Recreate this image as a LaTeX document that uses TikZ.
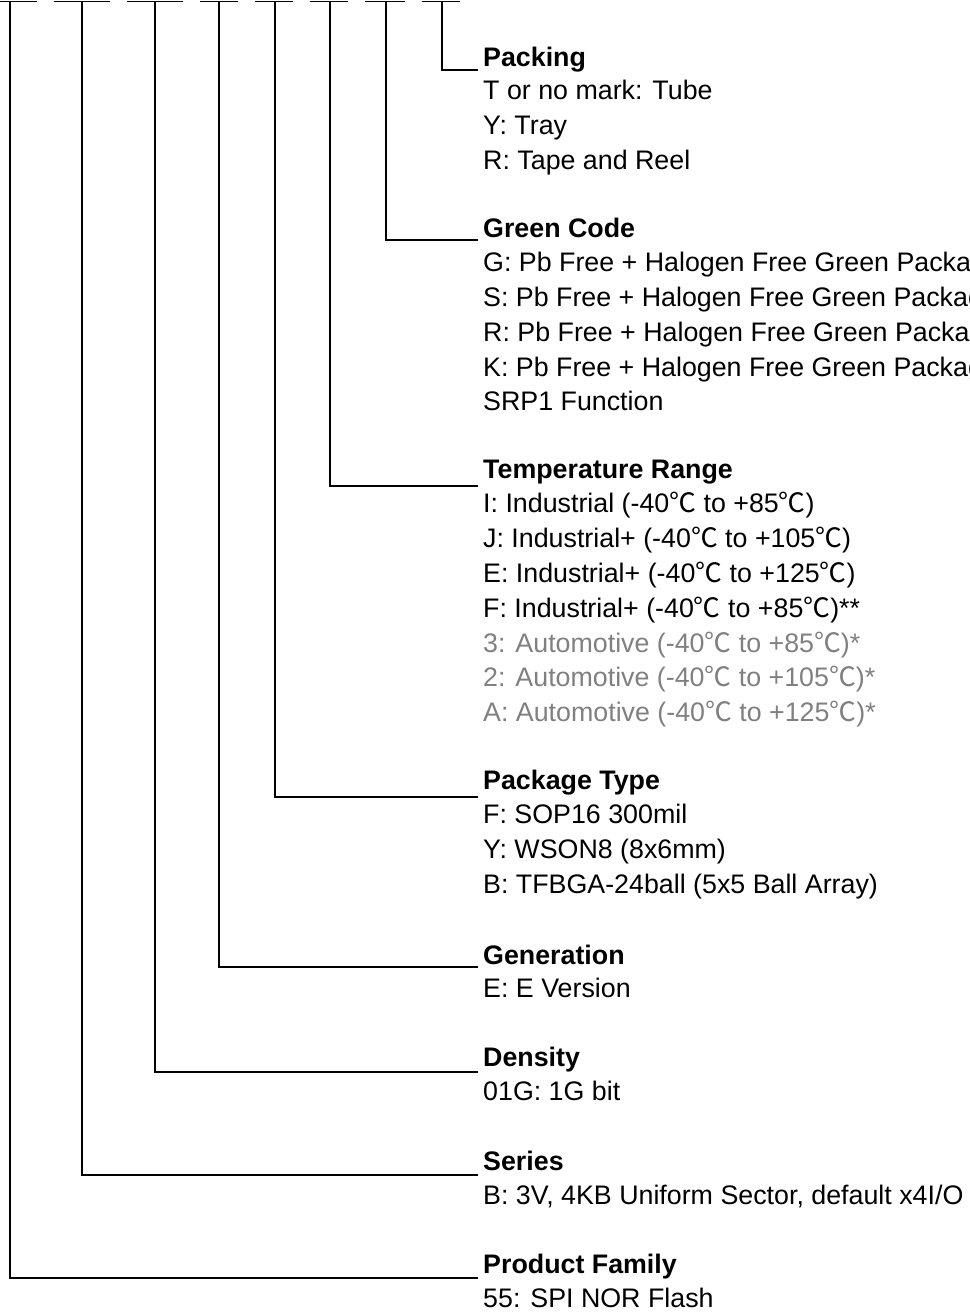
\documentclass[tikz,border=0pt]{standalone}
\usepackage{fontspec}
\setmainfont{Liberation Sans}
\newfontfamily\cjk{Noto Sans CJK SC}
\newcommand{\degc}{{\cjk ℃}}
\definecolor{autogray}{RGB}{128,128,128}
\begin{document}
\begin{tikzpicture}[x=1pt,y=-1pt,
  wire/.style={line width=1.5pt,black},
  txt/.style={anchor=base west,inner sep=0pt,font=\fontsize{26.8}{35}\selectfont},
  head/.style={txt,font=\fontsize{26.8}{35}\selectfont\bfseries},
  gtxt/.style={txt,text=autogray}]
\useasboundingbox (0,0) rectangle (969,1313);
% top dashes
\foreach \a/\b in {0/37,54/110,127/183,200/238,255/293,310/348,365/405,422/460}
  \draw[wire] (\a,1.5) -- (\b,1.5);
% top coordinates
\coordinate (t1) at (10,1.5);
\coordinate (t2) at (82,1.5);
\coordinate (t3) at (155,1.5);
\coordinate (t4) at (219,1.5);
\coordinate (t5) at (275,1.5);
\coordinate (t6) at (330,1.5);
\coordinate (t7) at (386,1.5);
\coordinate (t8) at (442,1.5);
% end coordinates
\coordinate (e8) at (478,70);
\coordinate (e7) at (478,240);
\coordinate (e6) at (478,486);
\coordinate (e5) at (478,797);
\coordinate (e4) at (478,967);
\coordinate (e3) at (478,1072);
\coordinate (e2) at (478,1175);
\coordinate (e1) at (478,1278);
\foreach \i in {1,...,8}
  \draw[wire] (t\i) |- (e\i);
% Packing
\node[head] (pk) at (483,66.5) {Packing};
\node[txt] (pk1) at (483,99.5) {T or no mark: Tube};
\node[txt] (pk2) at (483,134.5) {Y: Tray};
\node[txt] (pk3) at (483,169.5) {R: Tape and Reel};
% Green code
\node[head] (gc) at (483,237.5) {Green Code};
\node[txt] (gc1) at (483,271.5) {G: Pb Free + Halogen Free Green Package};
\node[txt] (gc2) at (483,306.5) {S: Pb Free + Halogen Free Green Package};
\node[txt] (gc3) at (483,341.5) {R: Pb Free + Halogen Free Green Package};
\node[txt] (gc4) at (483,376.5) {K: Pb Free + Halogen Free Green Package};
\node[txt] (gc5) at (483,410.5) {SRP1 Function};
% Temperature
\node[head] (tr) at (483,478.5) {Temperature Range};
\node[txt] (tr1) at (483,512.5) {I: Industrial (-40\degc{} to +85\degc)};
\node[txt] (tr2) at (483,547.5) {J: Industrial+ (-40\degc{} to +105\degc)};
\node[txt] (tr3) at (483,582.5) {E: Industrial+ (-40\degc{} to +125\degc)};
\node[txt] (tr4) at (483,617.5) {F: Industrial+ (-40\degc{} to +85\degc)**};
\node[gtxt] (tr5) at (483,652.5) {3: Automotive (-40\degc{} to +85\degc)*};
\node[gtxt] (tr6) at (483,686.5) {2: Automotive (-40\degc{} to +105\degc)*};
\node[gtxt] (tr7) at (483,721.5) {A: Automotive (-40\degc{} to +125\degc)*};
% Package type
\node[head] (pt) at (483,789.5) {Package Type};
\node[txt] (pt1) at (483,823.5) {F: SOP16 300mil};
\node[txt] (pt2) at (483,858.5) {Y: WSON8 (8x6mm)};
\node[txt] (pt3) at (483,893.5) {B: TFBGA-24ball (5x5 Ball Array)};
% Generation
\node[head] (ge) at (483,964.5) {Generation};
\node[txt] (ge1) at (483,997.5) {E: E Version};
% Density
\node[head] (de) at (483,1066.5) {Density};
\node[txt] (de1) at (483,1100.5) {01G: 1G bit};
% Series
\node[head] (se) at (483,1170.5) {Series};
\node[txt] (se1) at (483,1204.5) {B: 3V, 4KB Uniform Sector, default x4I/O};
% Product family
\node[head] (pf) at (483,1273.5) {Product Family};
\node[txt] (pf1) at (483,1307.5) {55: SPI NOR Flash};
\end{tikzpicture}
\end{document}
